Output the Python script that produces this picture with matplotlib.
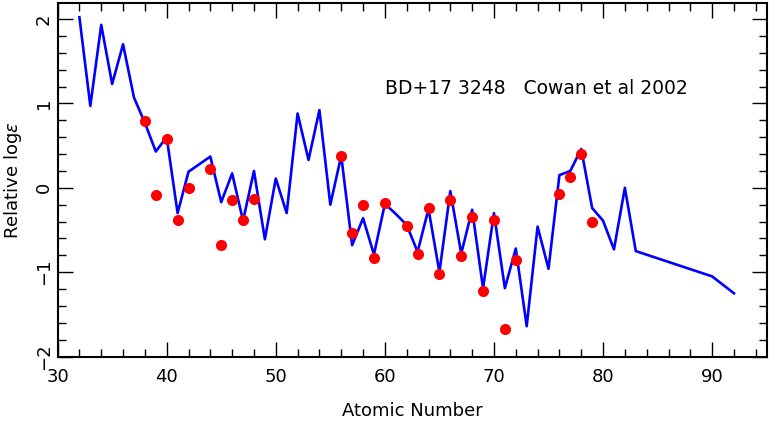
import numpy as np
import matplotlib
matplotlib.use('Agg')
import matplotlib.pyplot as plt
from matplotlib.ticker import MultipleLocator

# solar r-process curve (scaled)
line_z = [32, 33, 34, 35, 36, 37, 38, 39, 40, 41, 42, 43, 44, 45, 46, 47, 48, 49, 50,
          51, 52, 53, 54, 55, 56, 57, 58, 59, 60, 61, 62, 63, 64, 65, 66, 67, 68, 69, 70,
          71, 72, 73, 74, 75, 76, 77, 78, 79, 80, 81, 82, 83, 90, 92]
line_val = [2.02, 0.97, 1.93, 1.23, 1.70, 1.07, 0.77, 0.43, 0.60, -0.30, 0.19, 0.28, 0.37,
            -0.17, 0.17, -0.39, 0.20, -0.61, 0.11,
            -0.30, 0.88, 0.33, 0.92, -0.20, 0.38, -0.68, -0.36, -0.79, -0.19, -0.31, -0.44,
            -0.76, -0.25, -1.00, -0.04, -0.78, -0.26, -1.19, -0.30,
            -1.19, -0.72, -1.64, -0.46, -0.96, 0.15, 0.20, 0.46, -0.24, -0.39, -0.73, 0.00,
            -0.75, -1.05, -1.25]

# observed abundances
obs_z = [38, 39, 40, 41, 42, 44, 45, 46, 47, 48, 56, 57, 58, 59, 60, 62, 63, 64, 65,
         66, 67, 68, 69, 70, 71, 72, 76, 77, 78, 79]
obs_val = [0.79, -0.08, 0.58, -0.38, 0.00, 0.22, -0.68, -0.15, -0.38, -0.13, 0.38, -0.53,
           -0.20, -0.83, -0.18, -0.45, -0.78, -0.24, -1.02, -0.15, -0.81, -0.35, -1.22,
           -0.38, -1.67, -0.86, -0.07, 0.13, 0.40, -0.40]

plt.rcParams['font.family'] = ['DejaVu Sans']

fig = plt.figure(figsize=(7.7, 4.21), dpi=100)
ax = fig.add_axes([0.0748, 0.153, 0.9209, 0.840])

ax.plot(line_z, line_val, color='#0000ff', lw=1.9, zorder=2)
ax.plot(obs_z, obs_val, 'o', color='#ff0000', ms=8, mec='none', zorder=3)

ax.set_xlim(30, 95)
ax.set_ylim(-2, 2.19)

ax.xaxis.set_major_locator(MultipleLocator(10))
ax.xaxis.set_minor_locator(MultipleLocator(2))
ax.yaxis.set_major_locator(MultipleLocator(1))
ax.yaxis.set_minor_locator(MultipleLocator(0.2))
ax.tick_params(which='both', direction='in', top=True, right=True, width=1.0,
               labelsize=13, color='black')
ax.tick_params(which='major', length=11)
ax.tick_params(which='minor', length=6)
ax.tick_params(axis='x', pad=8)
ax.set_yticks([-2, -1, 0, 1, 2])
ax.set_yticklabels(['\u22122', '\u22121', '0', '1', '2'], rotation=90, va='center')

for s in ax.spines.values():
    s.set_linewidth(1.5)

ax.set_xlabel('Atomic Number', fontsize=13, labelpad=12)
ax.set_ylabel(r'Relative log$\varepsilon$', fontsize=13, labelpad=8)

ax.text(60.0, 1.18, 'BD+17 3248   Cowan et al 2002', fontsize=13.5, va='center', ha='left')

fig.savefig('out.png', dpi=100)
